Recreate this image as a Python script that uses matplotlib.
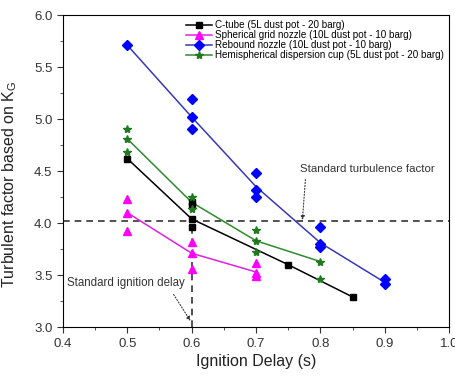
import numpy as np
import matplotlib.pyplot as plt
from matplotlib.ticker import MultipleLocator

plt.rcParams['font.family'] = ['Liberation Sans', 'DejaVu Sans']

# scatter points (ignition delay, Kg)
ctube_x = [0.5, 0.6, 0.6, 0.6, 0.6, 0.75, 0.85]
ctube_y = [4.62, 4.20, 4.17, 4.04, 3.96, 3.60, 3.29]
sph_x = [0.5, 0.5, 0.5, 0.6, 0.6, 0.6, 0.7, 0.7, 0.7]
sph_y = [4.23, 4.10, 3.92, 3.82, 3.71, 3.56, 3.62, 3.52, 3.49]
reb_x = [0.5, 0.6, 0.6, 0.6, 0.7, 0.7, 0.7, 0.8, 0.8, 0.8, 0.9, 0.9]
reb_y = [5.71, 5.19, 5.02, 4.90, 4.48, 4.32, 4.25, 3.96, 3.80, 3.77, 3.46, 3.41]
hemi_x = [0.5, 0.5, 0.5, 0.6, 0.6, 0.7, 0.7, 0.7, 0.8, 0.8]
hemi_y = [4.90, 4.81, 4.68, 4.25, 4.14, 3.93, 3.83, 3.72, 3.63, 3.46]

# trend lines
ctube_lx = [0.5, 0.6, 0.75, 0.85]
ctube_ly = [4.62, 4.04, 3.60, 3.29]
sph_lx = [0.5, 0.6, 0.7]
sph_ly = [4.10, 3.71, 3.53]
reb_lx = [0.5, 0.6, 0.7, 0.8, 0.9]
reb_ly = [5.71, 5.02, 4.35, 3.81, 3.43]
hemi_lx = [0.5, 0.6, 0.7, 0.8]
hemi_ly = [4.81, 4.20, 3.83, 3.63]

std_kg = 4.02
std_delay = 0.6

fig = plt.figure(figsize=(4.56, 3.76), dpi=100)
ax = fig.add_axes([0.138, 0.130, 0.847, 0.830])

series = [
    ('C-tube (5L dust pot - 20 barg)', ctube_x, ctube_y, ctube_lx, ctube_ly, 'black', 'black', 's', 4.5),
    ('Spherical grid nozzle (10L dust pot - 10 barg)', sph_x, sph_y, sph_lx, sph_ly, '#e020e0', '#ff00ff', '^', 6),
    ('Rebound nozzle (10L dust pot - 10 barg)', reb_x, reb_y, reb_lx, reb_ly, '#3838b8', '#0000ff', 'D', 5),
    ('Hemispherical dispersion cup (5L dust pot - 20 barg)', hemi_x, hemi_y, hemi_lx, hemi_ly, '#2e8b2e', '#1f7a1f', '*', 6),
]

handles = []
for label, x, y, lx, ly, lc, mc, m, ms in series:
    ax.plot(x, y, linestyle='none', marker=m, color=mc, markersize=ms, zorder=3)
    ax.plot(lx, ly, color=lc, lw=1.1, zorder=2)
    h, = ax.plot([], [], color=lc, lw=1.1, marker=m, markerfacecolor=mc,
                 markeredgecolor=mc, markersize=ms, label=label)
    handles.append(h)

ax.axhline(std_kg, color='#333333', ls=(0, (4, 3)), lw=1.2, zorder=1)
ax.plot([std_delay, std_delay], [3.0, std_kg], color='#333333', ls=(0, (4, 3)), lw=1.2, zorder=1)

ax.annotate('Standard turbulence factor', xy=(0.772, std_kg + 0.01), xytext=(0.769, 4.52),
            fontsize=8.2, color='#333333', va='center',
            arrowprops=dict(arrowstyle='-|>', ls=':', color='#333333', lw=0.8,
                            shrinkA=2, shrinkB=0, mutation_scale=6,
                            relpos=(0.04, 0)))
ax.annotate('Standard ignition delay', xy=(0.598, 3.06), xytext=(0.406, 3.42),
            fontsize=8.3, color='#333333', va='center',
            arrowprops=dict(arrowstyle='-|>', ls=':', color='#333333', lw=0.8,
                            shrinkA=2, shrinkB=0, mutation_scale=6,
                            relpos=(0.88, 0)))

ax.set_xlim(0.4, 1.0)
ax.set_ylim(3.0, 6.0)
ax.xaxis.set_major_locator(MultipleLocator(0.1))
ax.xaxis.set_minor_locator(MultipleLocator(0.05))
ax.yaxis.set_major_locator(MultipleLocator(0.5))
ax.yaxis.set_minor_locator(MultipleLocator(0.25))
ax.xaxis.set_major_formatter(plt.FuncFormatter(lambda v, _: f'{v:.1f}'))
ax.yaxis.set_major_formatter(plt.FuncFormatter(lambda v, _: f'{v:.1f}'))
ax.tick_params(which='both', direction='out', labelsize=9.5, colors='#333333')
ax.tick_params(which='major', length=4)
ax.tick_params(which='minor', length=2.5)

ax.set_xlabel('Ignition Delay (s)', fontsize=11.5, color='#222222', labelpad=3)
ax.set_ylabel('Turbulent factor based on K$_\\mathregular{G}$', fontsize=11.5,
              color='#222222')
ax.yaxis.set_label_coords(-0.114, 0.458)

ax.legend(handles=handles, loc='upper right', fontsize=7.1, frameon=False,
          handlelength=2.7, handletextpad=0.3, labelspacing=0.0,
          borderaxespad=0.2, borderpad=0.3)

fig.savefig('out.png', dpi=100)
